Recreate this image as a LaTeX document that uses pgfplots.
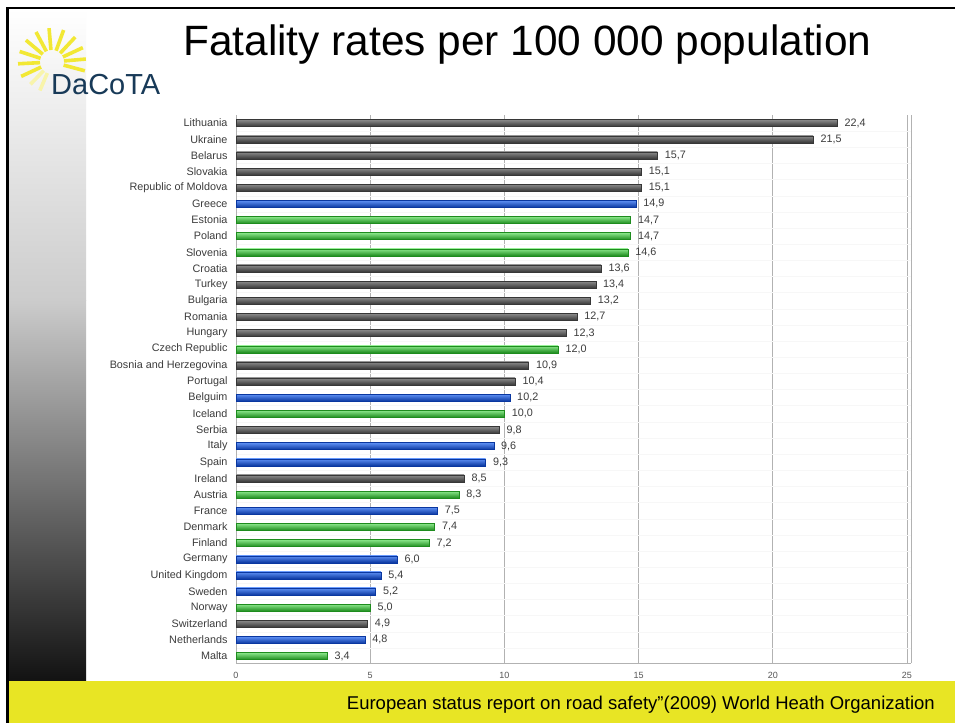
\documentclass[border=0pt]{standalone}
\usepackage{fontspec}
\setmainfont{Liberation Sans}
\usepackage{pgfplots}
\pgfplotsset{compat=1.18}
\definecolor{foot}{RGB}{232,229,36}
\definecolor{ray}{RGB}{242,232,52}
\definecolor{rayfade}{RGB}{248,244,170}
\definecolor{navy}{RGB}{24,58,88}
\definecolor{labgray}{RGB}{60,60,60}
\definecolor{tickgray}{RGB}{85,85,85}
\definecolor{gtop}{RGB}{140,140,140}
\definecolor{gmid}{RGB}{78,78,78}
\definecolor{gbot}{RGB}{55,55,55}
\definecolor{btop}{RGB}{95,145,245}
\definecolor{bmid}{RGB}{25,90,225}
\definecolor{bbot}{RGB}{10,55,160}
\definecolor{ctop}{RGB}{140,232,140}
\definecolor{cmid}{RGB}{60,200,60}
\definecolor{cbot}{RGB}{30,140,30}
\pgfplotsset{
  barbase/.style={xbar, bar width=7pt, bar shift=0pt, line width=0.3pt},
  G/.style={barbase, draw=gbot, top color=gtop, middle color=gmid, bottom color=gbot},
  B/.style={barbase, draw=bbot, top color=btop, middle color=bmid, bottom color=bbot},
  C/.style={barbase, draw=cbot, top color=ctop, middle color=cmid, bottom color=cbot},
}
\begin{document}
\begin{tikzpicture}
\useasboundingbox (0,0) rectangle (955pt,-723pt);
\fill[white] (0,0) rectangle (955pt,-723pt);
% left gradient bar
\shade[top color=white, bottom color=gray!40] (8.5pt,-9pt) rectangle (86pt,-300pt);
\shade[top color=gray!40, bottom color=black!93] (8.5pt,-300pt) rectangle (86pt,-681pt);
% footer
\fill[foot] (8.5pt,-681pt) rectangle (955pt,-723pt);
% frame lines
\fill[black] (6pt,-7pt) rectangle (955pt,-9pt);
\fill[black] (6pt,-7pt) rectangle (8.5pt,-723pt);
% logo
\foreach \a in {-15,5,25,47,70,95,118,140,162,183,205}
  \draw[ray, line width=3.6pt, shift={(52pt,-62pt)}] (\a:12pt) -- (\a:34pt);
\foreach \a in {226,247}
  \draw[rayfade, line width=3.6pt, shift={(52pt,-62pt)}] (\a:12pt) -- (\a:31pt);
\node[anchor=base west, inner sep=0pt, text=navy, font=\fontsize{29}{32}\selectfont] at (51pt,-94pt) {DaCoTA};
% title
\node[anchor=base west, inner sep=0pt, font=\fontsize{42.4}{46}\selectfont] at (183pt,-55pt) {Fatality rates per 100 000 population};
% footer text
\node[anchor=base east, inner sep=0pt, font=\fontsize{18.5}{21}\selectfont] at (935pt,-709pt) {European status report on road safety”(2009) World Heath Organization};
\begin{axis}[
  at={(236pt,-663pt)}, anchor=south west, scale only axis,
  width=675pt, height=548pt,
  xmin=0, xmax=25.15, ymin=-0.43, ymax=33.5,
  xtick={0,5,...,25}, ytick={0,...,33},
  yticklabels={Malta,Netherlands,Switzerland,Norway,Sweden,United Kingdom,Germany,Finland,Denmark,France,Austria,Ireland,Spain,Italy,Serbia,Iceland,Belguim,Portugal,Bosnia and Herzegovina,Czech Republic,Hungary,Romania,Bulgaria,Turkey,Croatia,Slovenia,Poland,Estonia,Greece,Republic of Moldova,Slovakia,Belarus,Ukraine,Lithuania},
  minor ytick={-0.5,0.5,...,32.5},
  major tick length=0pt, minor tick length=0pt,
  axis x line*=bottom, axis y line*=left,
  axis line style={draw=gray!60, line width=0.8pt, -},
  xmajorgrids, yminorgrids,
  major grid style={draw=gray!60, line width=0.8pt},
  minor grid style={draw=black!3, line width=0.5pt},
  xticklabel style={font=\fontsize{9}{10}\selectfont, text=tickgray, yshift=-6pt},
  yticklabel style={font=\fontsize{10.8}{12}\selectfont, text=labgray, xshift=-5pt},
  /pgf/number format/assume math mode=true,
  point meta=x,
  nodes near coords={\pgfmathprintnumber[fixed,fixed zerofill,precision=1,use comma]{\pgfplotspointmeta}},
  every node near coord/.append style={anchor=west, font=\fontsize{10.8}{12}\selectfont, text=labgray, xshift=4pt},
  clip=false,
]
\addplot[G] coordinates {(22.4,33)};
\addplot[G] coordinates {(21.5,32)};
\addplot[G] coordinates {(15.7,31)};
\addplot[G] coordinates {(15.1,30)};
\addplot[G] coordinates {(15.1,29)};
\addplot[B] coordinates {(14.9,28)};
\addplot[C] coordinates {(14.7,27)};
\addplot[C] coordinates {(14.7,26)};
\addplot[C] coordinates {(14.6,25)};
\addplot[G] coordinates {(13.6,24)};
\addplot[G] coordinates {(13.4,23)};
\addplot[G] coordinates {(13.2,22)};
\addplot[G] coordinates {(12.7,21)};
\addplot[G] coordinates {(12.3,20)};
\addplot[C] coordinates {(12.0,19)};
\addplot[G] coordinates {(10.9,18)};
\addplot[G] coordinates {(10.4,17)};
\addplot[B] coordinates {(10.2,16)};
\addplot[C] coordinates {(10.0,15)};
\addplot[G] coordinates {(9.8,14)};
\addplot[B] coordinates {(9.6,13)};
\addplot[B] coordinates {(9.3,12)};
\addplot[G] coordinates {(8.5,11)};
\addplot[C] coordinates {(8.3,10)};
\addplot[B] coordinates {(7.5,9)};
\addplot[C] coordinates {(7.4,8)};
\addplot[C] coordinates {(7.2,7)};
\addplot[B] coordinates {(6.0,6)};
\addplot[B] coordinates {(5.4,5)};
\addplot[B] coordinates {(5.2,4)};
\addplot[C] coordinates {(5.0,3)};
\addplot[G] coordinates {(4.9,2)};
\addplot[B] coordinates {(4.8,1)};
\addplot[C] coordinates {(3.4,0)};
\draw[gray!60, line width=0.8pt] (axis cs:25.15,-0.43) -- (axis cs:25.15,33.5);
\end{axis}
\end{tikzpicture}
\end{document}
